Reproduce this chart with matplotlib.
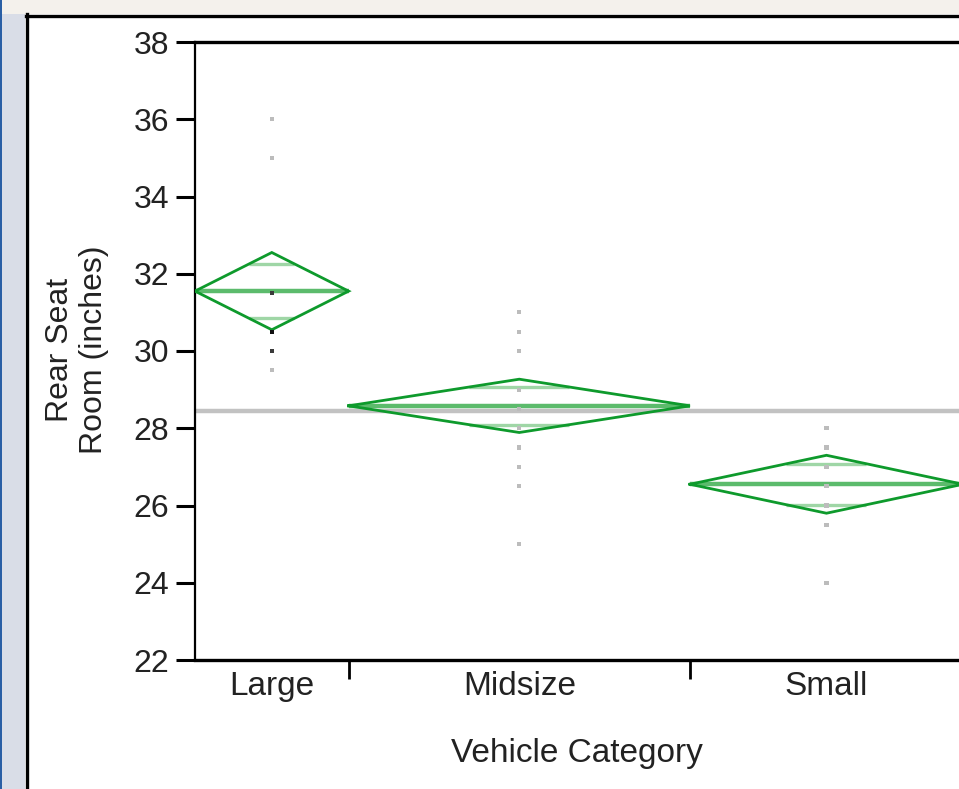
import numpy as np
import matplotlib
matplotlib.use("Agg")
import matplotlib.pyplot as plt
from matplotlib.patches import Rectangle
from matplotlib.lines import Line2D

# ── data ──────────────────────────────────────────────────────────────────────
categories  = ["Large", "Midsize", "Small"]
group_n     = [9, 20, 16]                 # x-axis widths proportional to n
group_means = [31.55, 28.58, 26.55]
ci_half     = [1.00, 0.69, 0.75]          # 95% CI half-width (diamond height)
grand_mean  = 28.45

large_pts   = [36, 35, 31.5, 30.5, 30, 29.5]
large_cnt   = [1, 1, 2, 3, 2, 1]
mid_pts     = [31, 30.5, 30, 29, 28.5, 28, 27.5, 27, 26.5, 25]
mid_cnt     = [1] * len(mid_pts)
small_pts   = [28, 27.5, 27, 26.5, 26, 25.5, 24]
small_cnt   = [1] * len(small_pts)

y_ticks     = [22, 24, 26, 28, 30, 32, 34, 36, 38]

# ── style ─────────────────────────────────────────────────────────────────────
FONT     = ["Liberation Sans", "DejaVu Sans"]
DIA_COL  = "#0e9a2c"
MEAN_COL = "#5cbb6c"
OVL_COL  = "#9fd6a6"
W, H = 959, 789

fig = plt.figure(figsize=(W / 100, H / 100), dpi=100)
fig.patch.set_facecolor("white")

# screenshot surroundings: left strip, top strip, black frame
fig.patches.append(Rectangle((0, 0), 25 / W, 1, transform=fig.transFigure,
                             facecolor="#d9dde7", edgecolor="none", zorder=0))
fig.patches.append(Rectangle((0, 0), 2 / W, 1, transform=fig.transFigure,
                             facecolor="#2a5fa5", edgecolor="none", zorder=0))
fig.patches.append(Rectangle((2 / W, 1 - 14 / H), 1, 14 / H, transform=fig.transFigure,
                             facecolor="#f4f1ec", edgecolor="none", zorder=0))
fig.lines.append(Line2D([26.5 / W, 26.5 / W], [0, 1 - 14 / H], transform=fig.transFigure,
                        color="black", lw=2.4))
fig.lines.append(Line2D([25.5 / W, 1], [1 - 15.5 / H, 1 - 15.5 / H], transform=fig.transFigure,
                        color="black", lw=2.4))

ax = fig.add_axes([195 / W, (H - 660) / H, 768 / W, 618 / H])
ax.set_facecolor("white")

bounds = np.concatenate([[0], np.cumsum(group_n)])
centers = (bounds[:-1] + bounds[1:]) / 2

# grand mean line
ax.axhline(grand_mean, color="#c2c2c2", lw=3.2, zorder=1)

pts_all = [(large_pts, large_cnt), (mid_pts, mid_cnt), (small_pts, small_cnt)]
for i, (m, h) in enumerate(zip(group_means, ci_half)):
    x0, x1, xc = bounds[i], bounds[i + 1], centers[i]
    # mean line
    ax.plot([x0, x1], [m, m], color=MEAN_COL, lw=3.2, zorder=2, solid_capstyle="butt")
    # overlap marks
    d = h / np.sqrt(2)
    half_w = (x1 - x0) / 2 * (1 - 1 / np.sqrt(2))
    for s in (1, -1):
        ax.plot([xc - half_w, xc + half_w], [m + s * d, m + s * d], color=OVL_COL,
                lw=2.4, zorder=2, solid_capstyle="butt")
    # diamond
    ax.plot([x0, xc, x1, xc, x0], [m, m + h, m, m - h, m], color=DIA_COL, lw=2.0,
            zorder=3, solid_joinstyle="miter")
    # points
    vals, cnts = pts_all[i]
    cols = ["#bcbcbc" if c == 1 else ("#3a3a3a" if c == 2 else "#111111") for c in cnts]
    ax.scatter([xc] * len(vals), vals, marker="s", s=9, c=cols, linewidths=0, zorder=4)

ax.set_xlim(0, bounds[-1])
ax.set_ylim(22, 38)
ax.set_yticks(y_ticks)
ax.set_yticklabels([str(t) for t in y_ticks], family=FONT, fontsize=23, color="#222222")
ax.tick_params(axis="y", direction="out", length=13.5, width=2.2, pad=5, color="black")

ax.set_xticks(centers)
ax.set_xticklabels(categories, family=FONT, fontsize=24, color="#222222")
ax.tick_params(axis="x", which="major", length=0, pad=8)
ax.set_xticks(bounds[1:], minor=True)
ax.tick_params(axis="x", which="minor", direction="out", length=13.5, width=2.0)

for side in ("top", "bottom"):
    ax.spines[side].set_linewidth(2.4)
ax.spines["left"].set_linewidth(1.6)
ax.spines["right"].set_visible(False)

fig.text(577 / W, (H - 762) / H, "Vehicle Category", family=FONT, fontsize=24,
         ha="center", va="baseline", color="#222222")
fig.text(77 / W, (H - 350) / H, "Rear Seat\nRoom (inches)", family=FONT, fontsize=23,
         rotation=90, ha="center", va="center", multialignment="center", linespacing=1.15,
         color="#222222")

fig.savefig("out.png", dpi=100)
